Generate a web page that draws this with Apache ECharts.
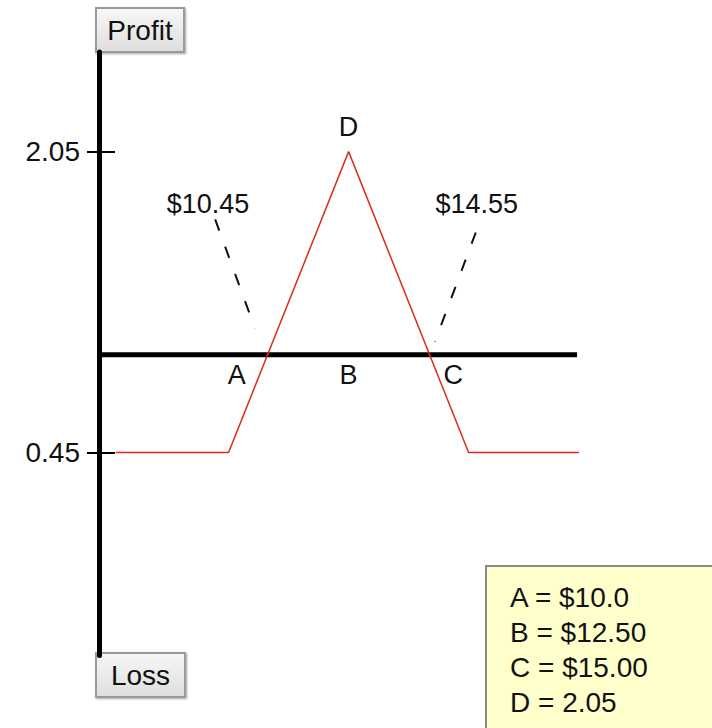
<!DOCTYPE html>
<html>
<head>
    <meta charset="utf-8">
    <title>Payoff diagram</title>
    <script src="https://cdn.jsdelivr.net/npm/echarts@6/dist/echarts.min.js"></script>
    <style>
        html, body { margin: 0; padding: 0; background: #fff; }
        #main { width: 712px; height: 728px; }
    </style>
</head>
<body>
    <div id="main"></div>
    <script type="text/javascript">
        // values (x in $, y in profit units of the drawing)
        var xRange = [7.3, 17.3];
        var yRange = [-0.63, 2.58];
        var yTickValues = [2.05, 0.45];

        var payoffX = [7.65, 10, 12.5, 15, 17.3];
        var payoffY = [0.45, 0.45, 2.05, 0.45, 0.45];

        var breakevenLevel = 0.97;
        var breakevenLineX = [7.3, 17.26];

        var leftGuideX = [9.72, 10.55];
        var leftGuideY = [1.69, 1.11];
        var rightGuideX = [15.15, 14.3];
        var rightGuideY = [1.62, 1.04];

        var guideLabels = ['$10.45', '$14.55'];
        var guideLabelX = [9.57, 15.17];
        var guideLabelY = [1.77, 1.77];

        var pointNames = ['A', 'B', 'C', 'D'];
        var pointLabelX = [10.17, 12.5, 14.68, 12.5];
        var pointLabelY = [0.86, 0.86, 0.86, 2.18];

        var legendLines = ['A = $10.0', 'B = $12.50', 'C = $15.00', 'D = 2.05'];

        var FONT = 'Liberation Sans, Arial, sans-serif';

        function pairs(xs, ys) {
            return xs.map(function (x, i) { return [x, ys[i]]; });
        }

        function button(text, x, y, w, h) {
            return {
                type: 'group',
                x: x, y: y,
                z: 100,
                children: [
                    {
                        type: 'rect',
                        shape: { x: 0, y: 0, width: w, height: h },
                        style: {
                            fill: new echarts.graphic.LinearGradient(0, 0, 0, 1, [
                                { offset: 0, color: '#f7f7f7' },
                                { offset: 1, color: '#dedede' }
                            ]),
                            stroke: '#9a9a9a',
                            lineWidth: 2,
                            shadowColor: 'rgba(0,0,0,0.35)',
                            shadowBlur: 2,
                            shadowOffsetX: 1,
                            shadowOffsetY: 1
                        }
                    },
                    {
                        type: 'text',
                        x: w / 2, y: h / 2,
                        style: {
                            text: text,
                            font: '28px ' + FONT,
                            fill: '#111',
                            align: 'center',
                            verticalAlign: 'middle'
                        }
                    }
                ]
            };
        }

        // text-only scatter: a label at each point, no symbol
        function textSeries(name, xs, ys, texts) {
            return {
                name: name,
                type: 'scatter',
                silent: true,
                symbolSize: 0,
                z: 6,
                itemStyle: { opacity: 1 },
                label: {
                    show: true, position: 'inside',
                    fontSize: 27, fontFamily: FONT, color: '#111',
                    formatter: function (p) { return texts[p.dataIndex]; }
                },
                data: pairs(xs, ys)
            };
        }

        var myChart = echarts.init(document.getElementById('main'), null, { renderer: 'svg' });

        option = {
            animation: false,
            grid: { left: 99, top: 52, width: 480, height: 603.5 },
            xAxis: {
                type: 'value', min: xRange[0], max: xRange[1],
                show: false
            },
            yAxis: [
                {
                    type: 'value', min: yRange[0], max: yRange[1],
                    axisLine: { show: true, lineStyle: { color: '#000', width: 5 } },
                    axisTick: { show: true, customValues: yTickValues, length: 12, lineStyle: { color: '#000', width: 2 } },
                    axisLabel: {
                        customValues: yTickValues,
                        fontSize: 28,
                        fontFamily: FONT,
                        color: '#111',
                        margin: 19,
                        formatter: function (v) { return v.toFixed(2); }
                    },
                    splitLine: { show: false }
                },
                {
                    type: 'value', min: yRange[0], max: yRange[1],
                    position: 'left',
                    axisLine: { show: false },
                    axisTick: { show: true, inside: true, customValues: yTickValues, length: 16, lineStyle: { color: '#000', width: 2 } },
                    axisLabel: { show: false },
                    splitLine: { show: false }
                }
            ],
            graphic: [
                button('Profit', 96, 8, 88, 44),
                button('Loss', 96, 653, 89, 44),
                {
                    type: 'group',
                    x: 486, y: 566,
                    z: 100,
                    children: [
                        {
                            type: 'rect',
                            shape: { x: 0, y: 0, width: 240, height: 180 },
                            style: { fill: '#ffffcc', stroke: '#8a8a8a', lineWidth: 2 }
                        },
                        {
                            type: 'text',
                            x: 24, y: 14,
                            style: {
                                text: legendLines.join('\n'),
                                font: '28px ' + FONT,
                                lineHeight: 35,
                                fill: '#111'
                            }
                        }
                    ]
                }
            ],
            series: [
                {
                    name: 'zero line',
                    type: 'line',
                    silent: true,
                    symbol: 'none',
                    z: 2,
                    lineStyle: { color: '#000', width: 5 },
                    data: breakevenLineX.map(function (x) { return [x, breakevenLevel]; })
                },
                {
                    name: 'payoff',
                    type: 'line',
                    silent: true,
                    symbol: 'none',
                    z: 5,
                    lineStyle: { color: '#da2a20', width: 1.5 },
                    data: pairs(payoffX, payoffY)
                },
                {
                    name: 'left guide',
                    type: 'line',
                    silent: true,
                    symbol: 'none',
                    z: 3,
                    lineStyle: { color: '#111', width: 2, type: [12, 17] },
                    data: pairs(leftGuideX, leftGuideY)
                },
                {
                    name: 'right guide',
                    type: 'line',
                    silent: true,
                    symbol: 'none',
                    z: 3,
                    lineStyle: { color: '#111', width: 2, type: [12, 17] },
                    data: pairs(rightGuideX, rightGuideY)
                },
                textSeries('guide labels', guideLabelX, guideLabelY, guideLabels),
                textSeries('point labels', pointLabelX, pointLabelY, pointNames)
            ]
        };

        myChart.setOption(option);
    </script>
</body>
</html>
